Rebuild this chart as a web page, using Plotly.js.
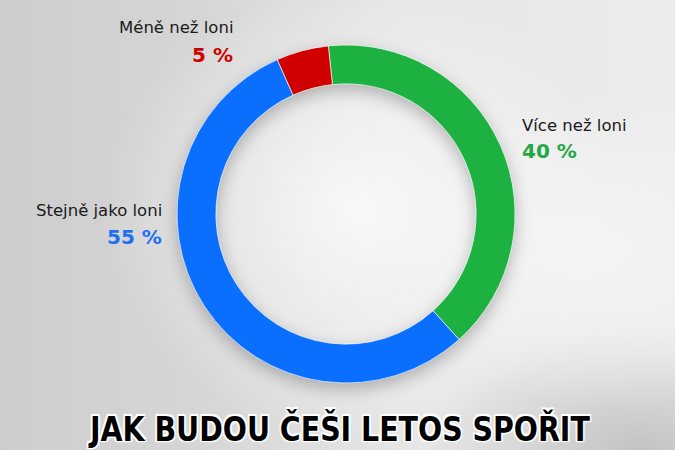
<!DOCTYPE html>
<html>
<head>
<meta charset="utf-8">
<script src="https://cdn.plot.ly/plotly-3.0.1.min.js"></script>
<style>
  html, body { margin: 0; padding: 0; width: 675px; height: 450px; overflow: hidden; }
  body {
    background:
      radial-gradient(ellipse 260px 230px at 360px 210px, rgba(250,250,250,0.9), rgba(250,250,250,0) 100%),
      radial-gradient(ellipse 200px 160px at 600px 250px, rgba(245,245,245,0.9), rgba(245,245,245,0) 100%),
      radial-gradient(ellipse 220px 120px at 640px 450px, rgba(185,185,185,0.8), rgba(185,185,185,0) 100%),
      linear-gradient(90deg, #cdcdcd 0%, #d6d6d6 30%, #e6e6e6 60%, #ececec 100%);
  }
  #chart { width: 675px; height: 450px; }
</style>
</head>
<body>
<div id="chart"></div>
<script>
const categories = ["Více než loni", "Stejně jako loni", "Méně než loni"];
const values = [40, 55, 5];
const valueLabels = ["40 %", "55 %", "5 %"];
const colors = ["#1db141", "#0a6eff", "#d10000"];
const textColors = ["#22a845", "#1f6ff5", "#d10000"];
const titleText = "JAK BUDOU ČEŠI LETOS SPOŘIT";

const trace = {
  type: "pie",
  labels: categories,
  values: values,
  hole: 0.77,
  sort: false,
  direction: "clockwise",
  rotation: -6,
  textinfo: "none",
  hoverinfo: "none",
  showlegend: false,
  marker: { colors: colors, line: { color: "rgba(255,255,255,0.8)", width: 0.8 } },
  domain: { x: [0.2622, 0.763], y: [0.1489, 0.9] }
};

const labelFont = "DejaVu Sans, Lato, sans-serif";
const numFont = "DejaVu Sans, Lato, sans-serif";
const pos = [
  { x: 520, yl: 125, yn: 151, anchor: "left" },
  { x: 164, yl: 210, yn: 237, anchor: "right" },
  { x: 235, yl: 27, yn: 55, anchor: "right" }
];
const annotations = [];
categories.forEach((c, i) => {
  const p = pos[i];
  annotations.push({
    text: c, xref: "paper", yref: "paper", x: p.x / 675, y: 1 - p.yl / 450,
    xanchor: p.anchor, yanchor: "middle", showarrow: false,
    font: { family: labelFont, size: 16.5, color: "#1a1a1a" }
  });
  annotations.push({
    text: "<b>" + valueLabels[i] + "</b>", xref: "paper", yref: "paper", x: p.x / 675, y: 1 - p.yn / 450,
    xanchor: p.anchor, yanchor: "middle", showarrow: false,
    font: { family: numFont, size: 20, color: textColors[i] }
  });
});

const layout = {
  width: 675, height: 450,
  margin: { l: 0, r: 0, t: 0, b: 0 },
  paper_bgcolor: "rgba(0,0,0,0)",
  plot_bgcolor: "rgba(0,0,0,0)",
  title: {
    text: "<b>" + titleText + "</b>",
    x: 0.502, xanchor: "center", y: 0.047, yanchor: "middle",
    font: {
      family: "DejaVu Sans Condensed, DejaVu Sans, sans-serif",
      size: 34, color: "#000",
      shadow: "1.5px 1.5px 0 #fff, -1.5px -1.5px 0 #fff, 1.5px -1.5px 0 #fff, -1.5px 1.5px 0 #fff, 0 0 4px #fff"
    }
  },
  annotations: annotations
};

Plotly.newPlot("chart", [trace], layout, { displayModeBar: false, staticPlot: true }).then(() => {
  const pl = document.querySelector(".pielayer");
  if (pl) pl.style.filter = "drop-shadow(0px 6px 8px rgba(0,0,0,0.25))";
  const t = document.querySelector(".gtitle");
  if (t) {
    const bb = t.getBBox();
    const target = 502;
    const s = Math.min(1, target / bb.width);
    const cx = bb.x + bb.width / 2;
    t.setAttribute("transform", "translate(" + (339 - s * cx) + ",0) scale(" + s + ",1)");
  }
});
</script>
</body>
</html>
